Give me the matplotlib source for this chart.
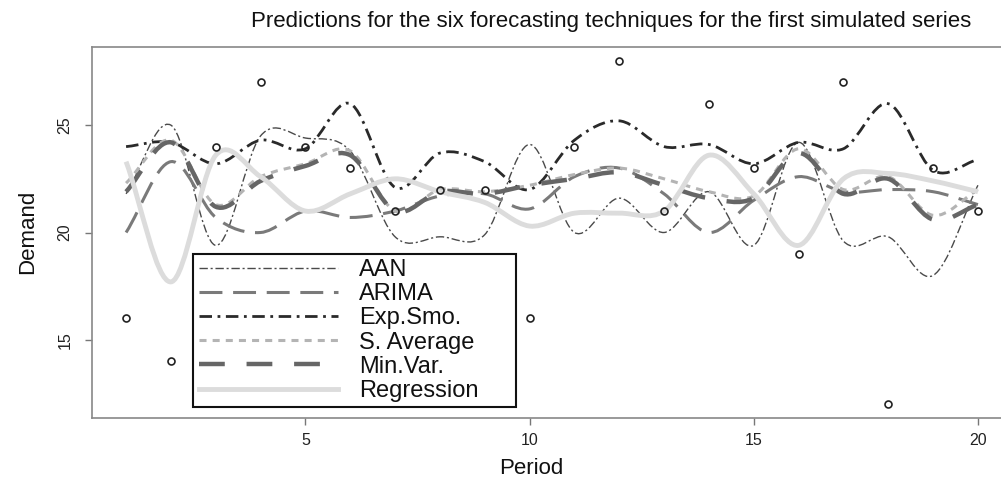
import numpy as np
import matplotlib.pyplot as plt
from matplotlib.path import Path
from matplotlib.patches import PathPatch, Rectangle
from matplotlib.lines import Line2D

plt.rcParams['font.family'] = ['Liberation Sans', 'DejaVu Sans']

# observed demand of the first simulated series
period = list(range(1, 21))
demand = [16, 14, 24, 27, 24, 23, 21, 22, 22, 16, 24, 28, 21, 26, 23, 19, 27, 12, 23, 21]

# predictions of each technique
aan = [21.8, 25.0, 19.4, 24.5, 24.4, 23.8, 19.8, 19.8, 19.9, 24.1,
       20.0, 21.6, 20.0, 21.9, 19.4, 24.2, 19.6, 19.8, 18.0, 22.2]
arima = [20.0, 23.3, 20.7, 20.0, 21.0, 20.7, 21.0, 21.7, 21.8, 21.1,
         22.6, 23.0, 21.8, 20.0, 21.5, 22.6, 21.9, 22.0, 21.9, 21.3]
exp_smo = [24.0, 24.2, 23.2, 24.3, 23.9, 26.0, 22.1, 23.7, 23.3, 22.0,
           24.3, 25.2, 24.0, 24.1, 23.2, 24.2, 23.9, 26.0, 22.9, 23.4]
s_average = [22.3, 24.3, 21.3, 22.6, 23.2, 23.8, 21.0, 22.0, 21.9, 22.2,
             22.7, 23.0, 22.5, 21.9, 21.7, 23.9, 22.0, 22.6, 20.8, 22.0]
min_var = [21.9, 24.2, 21.2, 22.4, 23.1, 23.6, 21.0, 21.9, 21.8, 22.2,
           22.5, 22.8, 22.2, 21.6, 21.6, 23.7, 21.8, 22.5, 20.6, 21.3]
regression = [23.3, 17.7, 23.6, 22.6, 21.0, 21.8, 22.5, 21.9, 21.4, 20.3,
              20.9, 20.9, 21.0, 23.6, 21.8, 19.4, 22.5, 22.75, 22.4, 21.9]

series = [
    ("AAN", aan, dict(color='#4a4a4a', lw=1.0, ls=(0, (6, 2, 1.5, 2)))),
    ("ARIMA", arima, dict(color='#7a7a7a', lw=2.2, ls=(0, (7.5, 3.5)))),
    ("Exp.Smo.", exp_smo, dict(color='#2a2a2a', lw=2.0, ls=(0, (4.5, 2, 1, 2)))),
    ("S. Average", s_average, dict(color='#b4b4b4', lw=2.2, ls=(0, (2.3, 2.0)))),
    ("Min.Var.", min_var, dict(color='#666666', lw=3.2, ls=(0, (5.8, 4.9)))),
    ("Regression", regression, dict(color='#dcdcdc', lw=3.5, ls='-')),
]


def smooth_path(x, y):
    # cubic bezier through the points (catmull-rom tangents)
    x = np.asarray(x, float)
    y = np.asarray(y, float)
    m = np.gradient(y, x)
    verts = [(x[0], y[0])]
    codes = [Path.MOVETO]
    for i in range(len(x) - 1):
        h = x[i + 1] - x[i]
        verts += [(x[i] + h / 3, y[i] + m[i] * h / 3),
                  (x[i + 1] - h / 3, y[i + 1] - m[i + 1] * h / 3),
                  (x[i + 1], y[i + 1])]
        codes += [Path.CURVE4] * 3
    return Path(verts, codes)


fig = plt.figure(figsize=(10.01, 4.86), dpi=100)
ax = fig.add_axes([92 / 1001, 68 / 486, 920 / 1001, 371 / 486])

ax.plot(period, demand, 'o', ms=5, mfc='none', mec='#222222', mew=1.2, zorder=3)

handles = []
for name, vals, st in series:
    ax.add_patch(PathPatch(smooth_path(period, vals), fill=False,
                           edgecolor=st['color'], lw=st['lw'], ls=st['ls'],
                           capstyle='butt', zorder=2))
    handles.append(Line2D([], [], color=st['color'], lw=st['lw'], ls=st['ls'],
                          dash_capstyle='butt', label=name))

ax.set_xlim(0.24, 20.76)
ax.set_ylim(11.36, 28.64)
ax.set_xticks([5, 10, 15, 20])
ax.set_yticks([15, 20, 25])
for lbl in ax.get_yticklabels():
    lbl.set_rotation(90)
    lbl.set_va('center')
ax.tick_params(axis='both', direction='out', length=5, width=1, color='#777777',
               labelsize=11.5, labelcolor='#222222')
ax.tick_params(axis='x', pad=6)
ax.tick_params(axis='y', pad=9)
for sp in ax.spines.values():
    sp.set_color('#888888')
    sp.set_linewidth(1.2)
ax.spines['right'].set_visible(False)

# legend without its own frame; an R style box (extra room on the right) is drawn below
leg = ax.legend(handles=handles, loc='upper left', bbox_to_anchor=(2.5, 19.0),
                bbox_transform=ax.transData, fontsize=17, handlelength=5.9,
                labelspacing=0.09, borderpad=0.22, borderaxespad=0, handletextpad=0.9,
                frameon=False)
leg.set_zorder(5)
for t in leg.get_texts():
    t.set_color('#111111')

fig.canvas.draw()
bb = leg.get_window_extent()
bb = bb.from_bounds(bb.x0, bb.y0, bb.width + 32, bb.height)
bb = bb.transformed(ax.transAxes.inverted())
ax.add_patch(Rectangle((bb.x0, bb.y0), bb.width, bb.height, transform=ax.transAxes,
                       facecolor='white', edgecolor='#111111', lw=1.5, zorder=4))

fig.text(611 / 1001, 1 - 22 / 486, "Predictions for the six forecasting techniques for the first simulated series",
         ha='center', va='center', fontsize=16, color='#111111')
fig.text(531 / 1001, 1 - 468 / 486, "Period", ha='center', va='center', fontsize=16, color='#111111')
fig.text(28 / 1001, 1 - 232 / 486, "Demand", ha='center', va='center', rotation=90,
         fontsize=16, color='#111111')

fig.savefig('out.png', dpi=100)
